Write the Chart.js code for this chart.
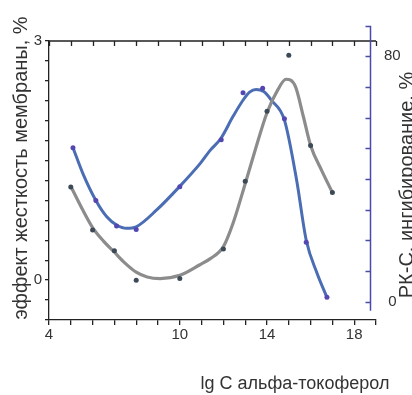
<!DOCTYPE html>
<html>
<head>
<meta charset="utf-8">
<script src="https://cdn.jsdelivr.net/npm/chart.js@4.4.0/dist/chart.umd.min.js"></script>
<style>
  body { margin: 0; background: #fff; }
  #wrap { width: 412px; height: 395px; }
</style>
</head>
<body>
<div id="wrap"><canvas id="chart" width="412" height="395"></canvas></div>
<script>
// membrane stiffness effect, left axis (measured dots)
const stiffX = [5, 6, 7, 8, 10, 12, 13, 14, 15, 16, 17];
const stiffY = [1.17, 0.63, 0.37, 0.0, 0.02, 0.39, 1.24, 2.12, 2.82, 1.69, 1.1];
// the smooth fitted curve
const stiffCurveX = [5.05, 5.55, 6, 6.5, 7, 7.5, 8, 8.5, 9.1, 10, 10.9, 11.4, 12, 12.45, 13, 13.5, 14, 14.5, 14.87, 15.3, 15.67, 16, 16.5, 17];
const stiffCurveY = [1.15, 0.88, 0.66, 0.49, 0.35, 0.21, 0.1, 0.04, 0.02, 0.06, 0.19, 0.27, 0.42, 0.72, 1.21, 1.67, 2.1, 2.39, 2.52, 2.43, 2.05, 1.69, 1.38, 1.1];

// PK-C inhibition, right axis
const pkcX = [5.1, 6.15, 7.1, 8, 10, 11.9, 12.9, 13.8, 14.8, 15.8, 16.75];
const pkcY = [50.2, 33, 24.7, 23.5, 37.5, 52.8, 68.1, 69.6, 59.6, 19.4, 1.4];
const pkcCurveX = [5.1, 5.57, 6.15, 6.65, 7.1, 7.56, 8, 8.94, 10, 10.93, 11.4, 11.88, 12.45, 12.93, 13.2, 13.5, 13.85, 14.2, 14.8, 15.36, 15.8, 16.3, 16.75];
const pkcCurveY = [50.2, 41.5, 33, 27.7, 25, 23.9, 24.4, 29.9, 37.6, 45, 49.4, 53.2, 60.5, 66, 68.3, 69.2, 68.5, 65.7, 59.2, 39.6, 20, 9.2, 1.4];

// tick labels
const xLabels = [4, 10, 14, 18];
const leftLabels = [0, 3];
const rightLabels = [0, 80];
const rightTicks = [0, 10, 20, 30, 40, 50, 60, 70, 80, 90];
const rightAxisAt = 18.72; // blue axis sits a bit inside the frame

const FONT = '"Liberation Sans", Arial, sans-serif';
const AXIS = '#222';
const BLUE_AXIS = '#4a4aa8';

const pts = (xs, ys) => xs.map((x, i) => ({ x, y: ys[i] }));

// top axis, blue axis and the titles
const axisDecor = {
  id: 'axisDecor',
  afterDraw(chart) {
    const { ctx, chartArea, scales } = chart;
    const x = scales.x, y2 = scales.y2;
    ctx.save();

    ctx.strokeStyle = AXIS;
    ctx.lineWidth = 1.3;
    ctx.beginPath();
    ctx.moveTo(x.getPixelForValue(4), chartArea.top);
    ctx.lineTo(x.getPixelForValue(19), chartArea.top);
    for (let v = 4; v <= 19; v++) {
      const px = Math.round(x.getPixelForValue(v)) + 0.5;
      ctx.moveTo(px, chartArea.top);
      ctx.lineTo(px, chartArea.top + 5);
    }
    ctx.stroke();

    const bx = Math.round(x.getPixelForValue(rightAxisAt)) + 0.5;
    ctx.strokeStyle = BLUE_AXIS;
    ctx.lineWidth = 1.5;
    ctx.beginPath();
    ctx.moveTo(bx, y2.getPixelForValue(90));
    ctx.lineTo(bx, y2.getPixelForValue(-3));
    rightTicks.forEach(v => {
      const py = Math.round(y2.getPixelForValue(v)) + 0.5;
      ctx.moveTo(bx, py);
      ctx.lineTo(bx - 5, py);
    });
    ctx.stroke();

    ctx.fillStyle = '#333';
    ctx.font = '20px ' + FONT;
    ctx.textAlign = 'center';
    ctx.textBaseline = 'middle';

    ctx.save();
    ctx.translate(21, 168);
    ctx.rotate(-Math.PI / 2);
    ctx.fillText('эффект жесткость мембраны, %', 0, 0);
    ctx.restore();

    ctx.save();
    ctx.translate(407, 185);
    ctx.rotate(-Math.PI / 2);
    ctx.fillText('РК-С, ингибирование, %', 0, 0);
    ctx.restore();

    ctx.font = '18px ' + FONT;
    ctx.textBaseline = 'alphabetic';
    ctx.fillText('lg C альфа-токоферол', 295, 389);

    ctx.restore();
  }
};

new Chart(document.getElementById('chart'), {
  type: 'scatter',
  data: {
    datasets: [
      {
        data: pts(stiffX, stiffY),
        yAxisID: 'y',
        pointRadius: 2.5,
        pointBackgroundColor: '#3c4957',
        pointBorderWidth: 0,
        order: 0,
      },
      {
        data: pts(pkcX, pkcY),
        yAxisID: 'y2',
        pointRadius: 2.5,
        pointBackgroundColor: '#5547b2',
        pointBorderWidth: 0,
        order: 1,
      },
      {
        data: pts(stiffCurveX, stiffCurveY),
        yAxisID: 'y',
        showLine: true,
        borderColor: '#8c8c8c',
        borderWidth: 3.2,
        pointRadius: 0,
        cubicInterpolationMode: 'monotone',
        order: 2,
      },
      {
        data: pts(pkcCurveX, pkcCurveY),
        yAxisID: 'y2',
        showLine: true,
        borderColor: '#4a6db4',
        borderWidth: 3,
        pointRadius: 0,
        cubicInterpolationMode: 'monotone',
        order: 3,
      },
    ],
  },
  options: {
    responsive: false,
    animation: false,
    layout: { padding: { top: 41, left: 0, right: 0, bottom: 0 } },
    plugins: {
      legend: { display: false },
      tooltip: { enabled: false },
    },
    scales: {
      x: {
        type: 'linear',
        min: 4,
        max: 19,
        afterFit: s => { s.height = 75; },
        border: { color: AXIS, width: 1.3 },
        grid: { drawOnChartArea: false, drawTicks: true, tickLength: 5, color: AXIS, lineWidth: 1.3 },
        ticks: {
          stepSize: 1,
          autoSkip: false,
          maxRotation: 0,
          padding: 1,
          color: '#333',
          font: { family: FONT, size: 15 },
          callback: v => (xLabels.includes(v) ? String(v) : ''),
        },
      },
      y: {
        type: 'linear',
        position: 'left',
        min: -0.5,
        max: 3,
        afterFit: s => { s.width = 49; },
        border: { color: AXIS, width: 1.3 },
        grid: { drawOnChartArea: false, drawTicks: true, tickLength: 4, color: AXIS, lineWidth: 1.3 },
        ticks: {
          stepSize: 0.25,
          autoSkip: false,
          padding: 3,
          color: '#333',
          font: { family: FONT, size: 15 },
          callback: v => (leftLabels.includes(v) ? String(v) : ''),
        },
      },
      y2: {
        type: 'linear',
        position: 'right',
        min: -6,
        max: 85,
        afterFit: s => { s.width = 36; },
        afterBuildTicks: s => { s.ticks = rightLabels.map(v => ({ value: v })); },
        border: { display: false },
        grid: { display: false },
        ticks: {
          padding: 0,
          crossAlign: 'center',
          color: '#333',
          font: { family: FONT, size: 15 },
          callback: v => String(v),
        },
      },
    },
  },
  plugins: [axisDecor],
});
</script>
</body>
</html>
